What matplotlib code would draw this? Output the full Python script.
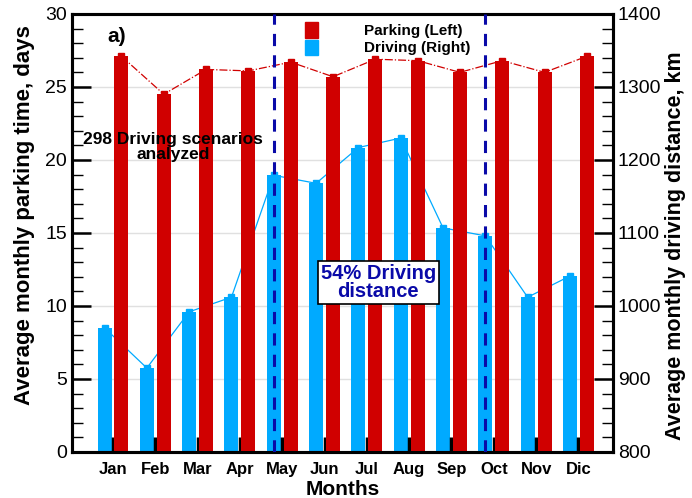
import matplotlib
matplotlib.use("Agg")
import matplotlib.pyplot as plt
import numpy as np
from matplotlib.ticker import MultipleLocator
from matplotlib.patches import Patch

months = ["Jan", "Feb", "Mar", "Apr", "May", "Jun", "Jul", "Aug", "Sep", "Oct", "Nov", "Dic"]
parking_days = [27.1, 24.5, 26.2, 26.1, 26.7, 25.7, 26.9, 26.8, 26.0, 26.8, 26.0, 27.1]
driving_km = [970, 915, 992, 1012, 1179, 1168, 1217, 1230, 1107, 1096, 1012, 1041]
marker_months = ["May", "Oct"]

plt.rcParams['font.family'] = ['Liberation Sans', 'DejaVu Sans']

RED = "#D00000"
BLUE = "#00AAFF"
DBLUE = "#0A0AA8"

fig = plt.figure(figsize=(6.92, 4.98), dpi=100)
ax = fig.add_axes([0.104, 0.0924, 0.782, 0.8796])
ax2 = ax.twinx()
ax.set_zorder(2)
ax.patch.set_visible(False)
ax2.set_zorder(1)

x = np.arange(len(months))
w = 0.33
off = 0.2

ax2.bar(x - off, driving_km, width=w, color=BLUE, zorder=2, bottom=0)
ax2.plot(x - off, driving_km, color=BLUE, lw=0.9, marker='s', ms=5, mec=BLUE, mfc=BLUE, zorder=3)
ax2.set_ylim(800, 1400)
ax2.yaxis.set_major_locator(MultipleLocator(100))
ax2.yaxis.set_minor_locator(MultipleLocator(20))

for g in [900, 1000, 1100, 1200, 1300]:
    ax2.axhline(g, color="#e0e0e0", lw=1, zorder=0)

ax.bar(x + off, parking_days, width=w, color=RED, zorder=2)
ax.plot(x + off, parking_days, color=RED, lw=0.9, ls='-.', marker='s', ms=5, mec=RED, mfc=RED, zorder=3)
ax.set_ylim(0, 30)
ax.set_xlim(-0.97, 11.82)
ax.yaxis.set_major_locator(MultipleLocator(5))
ax.yaxis.set_minor_locator(MultipleLocator(1))

for m in marker_months:
    i = months.index(m)
    ax.axvline(i - off, color=DBLUE, lw=2.2, ls=(0, (4, 3)), zorder=5)

ax.set_xticks(x)
ax.set_xticklabels(months, fontsize=12, fontweight='bold')
ax.tick_params(axis='x', direction='in', length=11, width=2.5, pad=7)
ax.tick_params(axis='y', which='major', direction='in', length=14, width=1.8, labelsize=14)
ax.tick_params(axis='y', which='minor', direction='in', length=8, width=1.0)
ax2.tick_params(axis='y', which='major', direction='in', length=14, width=1.8, labelsize=14)
ax2.tick_params(axis='y', which='minor', direction='in', length=8, width=1.0)

for sp in ax.spines.values():
    sp.set_linewidth(2.2)
for sp in ax2.spines.values():
    sp.set_linewidth(2.2)

ax.set_ylabel("Average monthly parking time, days", fontsize=16, fontweight='bold')
ax.yaxis.set_label_coords(-0.068, 0.54)
ax2.set_ylabel("Average monthly driving distance, km", fontsize=15.5, fontweight='bold')
ax2.yaxis.set_label_coords(1.095, 0.47)
ax.set_xlabel("Months", fontsize=15, fontweight='bold')
ax.xaxis.set_label_coords(0.5, -0.064)

handles = [Patch(color=RED, label="Parking (Left)"), Patch(color=BLUE, label="Driving (Right)")]
leg = ax.legend(handles=handles, loc='upper left', bbox_to_anchor=(0.405, 1.012), frameon=False,
                prop={'weight': 'bold', 'size': 11}, handlelength=0.85, handleheight=1.15,
                handletextpad=3.0, labelspacing=0.1)

ax.text(0.065, 0.935, "a)", transform=ax.transAxes, fontsize=15, fontweight='bold')
ax.text(1.42, 20.9, "298 Driving scenarios\nanalyzed", fontsize=12.5, fontweight='bold',
        ha='center', va='center', linespacing=1.05, zorder=6)
ax.text(6.27, 11.6, "54% Driving\ndistance", fontsize=14.5, fontweight='bold',
        color=DBLUE, ha='center', va='center', linespacing=0.95, zorder=6,
        bbox=dict(boxstyle='square,pad=0.15', fc='white', ec='black', lw=1.2))

fig.savefig("out.png", dpi=100)
